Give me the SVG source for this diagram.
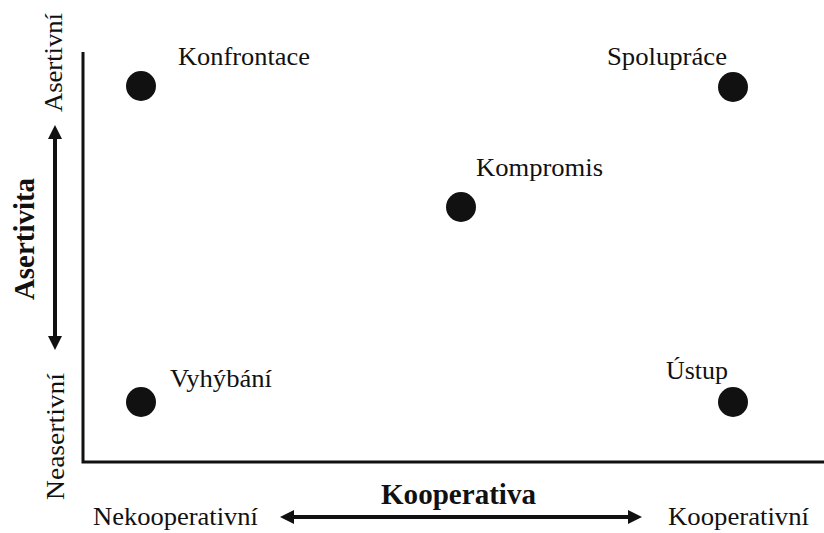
<svg xmlns="http://www.w3.org/2000/svg" width="824" height="533" viewBox="0 0 824 533">
<defs>
<style>
.t{font-family:'Liberation Serif','Times New Roman','DejaVu Serif',serif;font-size:26px;fill:#111}
.b{font-family:'Liberation Serif','Times New Roman','DejaVu Serif',serif;font-size:29px;font-weight:bold;fill:#111}
.dot{fill:#111}
.axis{stroke:#111;stroke-width:3;fill:none}
.arr{stroke:#111;stroke-width:4;fill:none;marker-start:url(#ah);marker-end:url(#ah)}
</style>
<marker id="ah" markerUnits="userSpaceOnUse" markerWidth="14" markerHeight="14" refX="2" refY="7" orient="auto-start-reverse">
<path d="M0,0 L14,7 L0,14 z" fill="#111"/>
</marker>
</defs>
<rect width="824" height="533" fill="#fff"/>
<g id="connectors">
<path class="axis" d="M83,52 V462 H824"/>
<line class="arr" x1="55" y1="137" x2="55" y2="338"/>
<line class="arr" x1="292" y1="517" x2="630" y2="517"/>
</g>
<g id="axis-labels">
<text class="t" transform="translate(62,112) rotate(-90)" textLength="99" lengthAdjust="spacingAndGlyphs">Asertivní</text>
<text class="t" transform="translate(64,500) rotate(-90)" textLength="127" lengthAdjust="spacingAndGlyphs">Neasertivní</text>
<text class="b" transform="translate(34,300) rotate(-90)" textLength="122" lengthAdjust="spacingAndGlyphs">Asertivita</text>
<text class="b" x="381" y="504" textLength="155" lengthAdjust="spacingAndGlyphs">Kooperativa</text>
<text class="t" x="93" y="525" textLength="165" lengthAdjust="spacingAndGlyphs">Nekooperativní</text>
<text class="t" x="668" y="525" textLength="141" lengthAdjust="spacingAndGlyphs">Kooperativní</text>
</g>
<g id="konfrontace">
<circle class="dot" cx="141" cy="86" r="15"/>
<text class="t" x="178" y="65" textLength="132" lengthAdjust="spacingAndGlyphs">Konfrontace</text>
</g>
<g id="spoluprace">
<circle class="dot" cx="733" cy="87" r="15"/>
<text class="t" x="607" y="65" textLength="120" lengthAdjust="spacingAndGlyphs">Spolupráce</text>
</g>
<g id="kompromis">
<circle class="dot" cx="461" cy="207" r="15"/>
<text class="t" x="476" y="176" textLength="127" lengthAdjust="spacingAndGlyphs">Kompromis</text>
</g>
<g id="vyhybani">
<circle class="dot" cx="141" cy="402" r="15"/>
<text class="t" x="170" y="387" textLength="102" lengthAdjust="spacingAndGlyphs">Vyhýbání</text>
</g>
<g id="ustup">
<circle class="dot" cx="733" cy="402" r="15"/>
<text class="t" x="666" y="379" textLength="62" lengthAdjust="spacingAndGlyphs">Ústup</text>
</g>
</svg>
